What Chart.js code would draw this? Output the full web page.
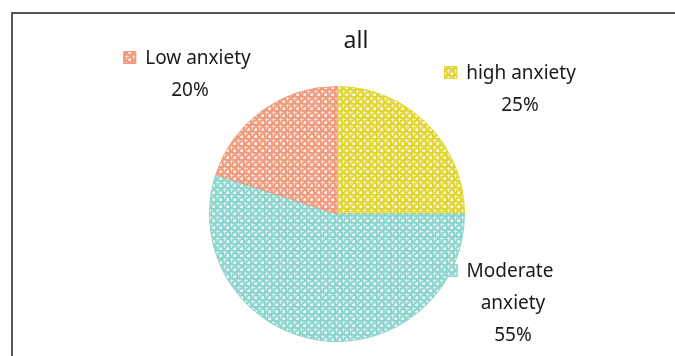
<!DOCTYPE html>
<html>
<head>
<meta charset="utf-8">
<script src="https://cdn.jsdelivr.net/npm/chart.js@4"></script>
<style>
  html, body { margin: 0; padding: 0; background: #fff; }
  #wrap { position: relative; width: 675px; height: 356px; }
</style>
</head>
<body>
<div id="wrap"><canvas id="pie" width="675" height="356"></canvas></div>
<script>
// 圖表資料
const categories = ['high anxiety', 'Moderate anxiety', 'Low anxiety'];
const shares = [25, 55, 20];
const chartTitle = 'all';
const fgColors = ['#e2d536', '#8dd5cd', '#ef9c7f'];

const FONT = '"Noto Sans", "Open Sans", sans-serif';

// 點狀花紋填色
function makePattern(color) {
    const tile = document.createElement('canvas');
    tile.width = 7;
    tile.height = 7;
    const c = tile.getContext('2d');
    c.fillStyle = color;
    c.fillRect(0, 0, 7, 7);
    c.fillStyle = 'rgba(255,255,255,0.6)';
    c.fillRect(0, 0, 3, 1);
    c.fillRect(0, 0, 1, 3);
    c.fillRect(6, 0, 1, 1);
    c.fillRect(0, 6, 1, 1);
    c.fillRect(3, 2, 2, 3);
    c.fillRect(2, 3, 3, 2);
    return document.getElementById('pie').getContext('2d').createPattern(tile, 'repeat');
}
const patterns = fgColors.map(makePattern);

// 外框、標題與資料標籤
const decorPlugin = {
    id: 'decor',
    beforeDraw(chart) {
        const ctx = chart.ctx;
        ctx.save();
        ctx.fillStyle = '#555';
        ctx.fillRect(11, 12, 700, 2);
        ctx.fillRect(11, 12, 2, 360);
        ctx.restore();
    },
    afterDraw(chart) {
        const ctx = chart.ctx;
        const arc = chart.getDatasetMeta(0).data[0];
        const cx = arc.x, cy = arc.y;
        ctx.save();
        ctx.fillStyle = '#1a1a1a';
        ctx.textAlign = 'center';
        ctx.textBaseline = 'middle';
        ctx.font = '23px ' + FONT;
        ctx.fillText(chartTitle, cx + 19, cy - 173);

        // 每個標籤相對圓心的位置（名稱行、百分比）
        const spots = [
            { dx: 184, dy: -140, lines: [categories[0]], pdx: 183 },
            { dx: 173, dy: 58, lines: ['Moderate', 'anxiety'], pdx: 176 },
            { dx: -139, dy: -155, lines: [categories[2]], pdx: -147 }
        ];
        ctx.font = '19px ' + FONT;
        spots.forEach((s, i) => {
            let ly = cy + s.dy;
            const w = ctx.measureText(s.lines[0]).width;
            // 圖例小方塊
            const bx = cx + s.dx - w / 2 - 22;
            ctx.fillStyle = patterns[i];
            ctx.fillRect(bx, ly - 8, 13, 13);
            ctx.strokeStyle = fgColors[i];
            ctx.lineWidth = 1;
            ctx.strokeRect(bx + 0.5, ly - 7.5, 12, 12);
            ctx.fillStyle = '#1a1a1a';
            s.lines.forEach((t, k) => {
                ctx.fillText(t, cx + (k === 0 ? s.dx : s.pdx), ly);
                ly += 32;
            });
            ctx.fillText(shares[i] + '%', cx + s.pdx, ly);
        });
        ctx.restore();
    }
};

new Chart(document.getElementById('pie'), {
    type: 'pie',
    data: {
        labels: categories,
        datasets: [{
            data: shares,
            backgroundColor: patterns,
            borderColor: fgColors,
            borderWidth: 1
        }]
    },
    options: {
        responsive: false,
        animation: false,
        layout: { padding: { top: 86, bottom: 14, left: 209, right: 210 } },
        plugins: {
            legend: { display: false },
            title: { display: false },
            tooltip: { enabled: false }
        }
    },
    plugins: [decorPlugin]
});
</script>
</body>
</html>
